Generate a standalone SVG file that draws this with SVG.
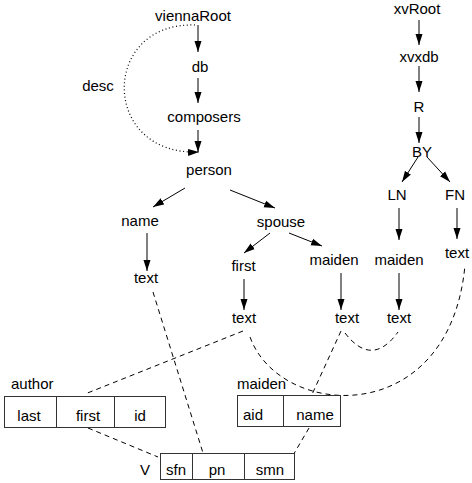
<svg xmlns="http://www.w3.org/2000/svg" width="472" height="483" viewBox="0 0 472 483">
<style>
text{font-family:"Liberation Sans",Arial,sans-serif;font-size:15px;fill:#000;text-anchor:middle}
.l{text-anchor:start}
.e{stroke:#000;stroke-width:1;fill:none;marker-end:url(#ah)}
.d{stroke:#000;stroke-width:1;fill:none;stroke-dasharray:5,4}
.dot{stroke:#000;stroke-width:1.2;fill:none;stroke-dasharray:1,2.6;marker-end:url(#ah)}
.box{fill:#fff;stroke:#333;stroke-width:1}
.sep{stroke:#333;stroke-width:1}
</style>
<defs>
<marker id="ah" markerUnits="userSpaceOnUse" markerWidth="12" markerHeight="8" refX="11" refY="4" orient="auto">
<path d="M0,0.5 L11,4 L0,7.5 z" fill="#000"/>
</marker>
</defs>
<g id="connectors">
<line class="e" x1="198" y1="25" x2="198" y2="52"/>
<line class="e" x1="198" y1="78" x2="198" y2="103"/>
<line class="e" x1="198" y1="130" x2="198" y2="152"/>
<line class="e" x1="185" y1="188" x2="153" y2="207"/>
<line class="e" x1="230" y1="190" x2="275" y2="208"/>
<line class="e" x1="147" y1="233" x2="147" y2="271"/>
<line class="e" x1="270" y1="233" x2="244" y2="253"/>
<line class="e" x1="289" y1="233" x2="322" y2="246"/>
<line class="e" x1="244" y1="279" x2="244" y2="310"/>
<line class="e" x1="341" y1="273" x2="341" y2="310"/>
<line class="e" x1="419" y1="20" x2="419" y2="45"/>
<line class="e" x1="419" y1="66" x2="419" y2="92"/>
<line class="e" x1="419" y1="117" x2="419" y2="143"/>
<line class="e" x1="418" y1="157" x2="402" y2="182"/>
<line class="e" x1="427" y1="157" x2="450" y2="182"/>
<line class="e" x1="399" y1="208" x2="399" y2="240"/>
<line class="e" x1="399" y1="273" x2="399" y2="310"/>
<line class="e" x1="457" y1="208" x2="457" y2="239"/>
<path class="dot" d="M195,25 C100,22 100,156 199,152"/>
<line class="d" x1="153" y1="292" x2="203" y2="453"/>
<line class="d" x1="243" y1="331" x2="85" y2="394"/>
<path class="d" d="M250,337 C280,420 450,430 465,265"/>
<line class="d" x1="341" y1="331" x2="309" y2="401"/>
<line class="d" x1="309" y1="428" x2="292" y2="457"/>
<line class="d" x1="88" y1="428" x2="158" y2="457"/>
<path class="d" d="M345,333 Q372,368 398,332"/>
</g>
<g id="viennaRoot"><text x="193" y="21">viennaRoot</text></g>
<g id="db"><text x="200" y="72">db</text></g>
<g id="composers"><text x="204" y="122">composers</text></g>
<g id="person"><text x="209" y="175">person</text></g>
<g id="desc"><text x="98" y="91">desc</text></g>
<g id="name"><text x="140" y="226">name</text></g>
<g id="spouse"><text x="281" y="227">spouse</text></g>
<g id="name_text"><text x="146" y="283">text</text></g>
<g id="first"><text x="243.5" y="271">first</text></g>
<g id="spouse_maiden"><text x="334" y="265">maiden</text></g>
<g id="first_text"><text x="244" y="323">text</text></g>
<g id="maiden_text"><text x="347" y="323">text</text></g>
<g id="xvRoot"><text x="417" y="14">xvRoot</text></g>
<g id="xvxdb"><text x="419" y="62">xvxdb</text></g>
<g id="R"><text x="419" y="112">R</text></g>
<g id="BY"><text x="422" y="157">BY</text></g>
<g id="LN"><text x="397" y="200">LN</text></g>
<g id="FN"><text x="455" y="200">FN</text></g>
<g id="LN_maiden"><text x="399" y="265">maiden</text></g>
<g id="LN_text"><text x="399" y="323">text</text></g>
<g id="FN_text"><text x="457" y="258">text</text></g>
<g id="author">
<text class="l" x="11" y="389">author</text>
<rect class="box" x="4.5" y="396.5" width="161" height="31"/>
<line class="sep" x1="56.5" y1="396.5" x2="56.5" y2="427.5"/>
<line class="sep" x1="114.5" y1="396.5" x2="114.5" y2="427.5"/>
<text x="29" y="421">last</text>
<text x="88" y="421">first</text>
<text x="140" y="421">id</text>
</g>
<g id="maiden_table">
<text class="l" x="237" y="389">maiden</text>
<rect class="box" x="237.5" y="395.5" width="103" height="31"/>
<line class="sep" x1="283.5" y1="395.5" x2="283.5" y2="426.5"/>
<text x="253" y="420">aid</text>
<text x="315" y="420">name</text>
</g>
<g id="V">
<text x="145" y="475">V</text>
<rect class="box" x="160.5" y="453.5" width="134" height="26"/>
<line class="sep" x1="192.5" y1="453.5" x2="192.5" y2="479.5"/>
<line class="sep" x1="244.5" y1="453.5" x2="244.5" y2="479.5"/>
<text x="176" y="475">sfn</text>
<text x="217" y="475">pn</text>
<text x="270" y="475">smn</text>
</g>
</svg>
